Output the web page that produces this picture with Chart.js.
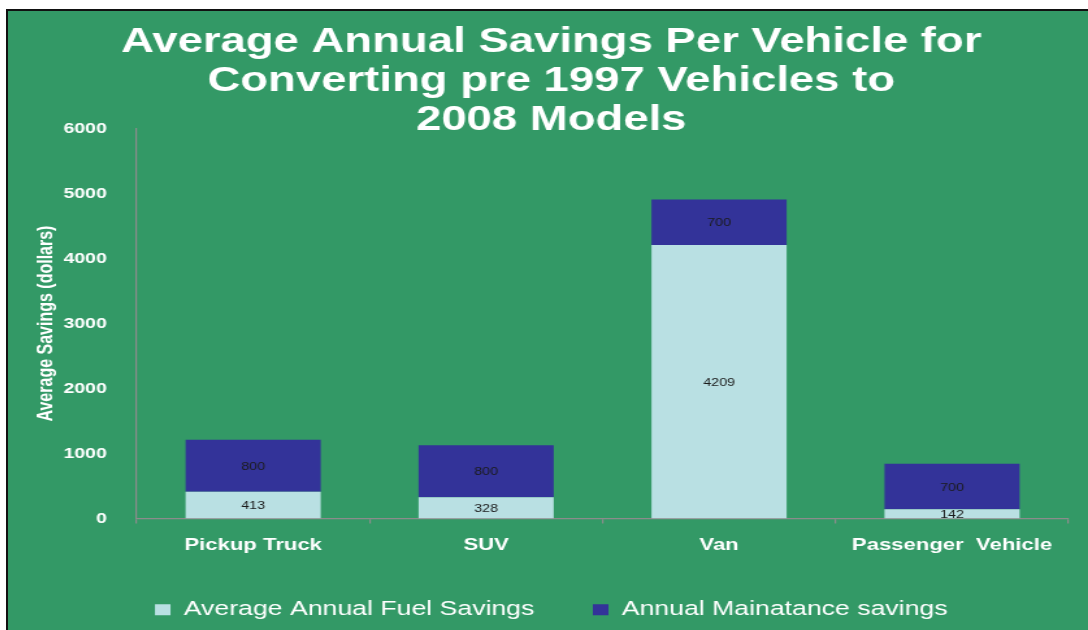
<!DOCTYPE html>
<html lang="en">
<head>
  <meta charset="UTF-8">
  <title>Average Annual Savings Per Vehicle</title>
  <script src="https://cdn.jsdelivr.net/npm/chart.js"></script>
  <style>
    body {
      background: #fff;
      margin: 0;
      overflow: hidden;
    }
    .frame {
      position: absolute;
      left: 6px;
      top: 9px;
      width: 1080px;
      height: 619px;
      border-top: 2px solid #111;
      border-left: 2px solid #111;
      background: #339966;
      overflow: hidden;
    }
    /* chart is drawn narrow and widened, so all text gets the same wide look */
    .stretch {
      width: 831px;
      height: 619px;
      transform: scaleX(1.29964);
      transform-origin: 0 0;
    }
  </style>
</head>
<body>

  <div class="frame">
    <div class="stretch"><canvas id="savingsChart" width="831" height="619"></canvas></div>
  </div>

  <script>
    const titleLines = ['Average Annual Savings Per Vehicle for', 'Converting pre 1997 Vehicles to', '2008 Models'];
    const vehicles = ['Pickup Truck', 'SUV', 'Van', 'Passenger  Vehicle'];
    const fuelSavings = [413, 328, 4209, 142];
    const maintenanceSavings = [800, 800, 700, 700];
    const yTicks = [0, 1000, 2000, 3000, 4000, 5000, 6000];
    const yTitle = 'Average Savings (dollars)';

    const FONT = "'Liberation Sans', Arial, sans-serif";
    const AXIS = '#8c8c8c';

    // value printed in the middle of every bar segment
    const segmentLabels = {
      id: 'segmentLabels',
      afterDatasetsDraw(chart) {
        const ctx = chart.ctx;
        ctx.save();
        ctx.font = '11px ' + FONT;
        ctx.fillStyle = '#1b1b1b';
        ctx.textAlign = 'center';
        ctx.textBaseline = 'middle';
        chart.data.datasets.forEach((ds, i) => {
          chart.getDatasetMeta(i).data.forEach((bar, j) => {
            const p = bar.getCenterPoint();
            ctx.fillText(String(ds.data[j]), p.x, p.y + 1);
          });
        });
        ctx.restore();
      }
    };

    new Chart(document.getElementById('savingsChart').getContext('2d'), {
      type: 'bar',
      data: {
        labels: vehicles,
        datasets: [
          {
            label: 'Average Annual Fuel Savings',
            data: fuelSavings,
            backgroundColor: '#b9e0e3',
            barPercentage: 0.58,
            categoryPercentage: 1.0
          },
          {
            label: 'Annual Mainatance savings',
            data: maintenanceSavings,
            backgroundColor: '#333399',
            barPercentage: 0.58,
            categoryPercentage: 1.0
          }
        ]
      },
      options: {
        responsive: false,
        animation: false,
        layout: { padding: { left: 20, right: 15, top: 0, bottom: 0 } },
        plugins: {
          title: {
            display: true,
            text: titleLines,
            color: '#fff',
            font: { family: FONT, size: 35, weight: 'bold', lineHeight: 1.11 },
            padding: { top: 12, bottom: -11 }
          },
          legend: {
            position: 'bottom',
            maxHeight: 76,
            labels: {
              color: '#fff',
              font: { family: FONT, size: 20.5 },
              boxWidth: 12,
              boxHeight: 11,
              padding: 45
            }
          },
          tooltip: { enabled: false }
        },
        scales: {
          x: {
            stacked: true,
            afterFit: s => { s.height = 36; },
            grid: { drawOnChartArea: false, drawTicks: true, tickLength: 5, color: AXIS, lineWidth: 1.2 },
            border: { color: AXIS, width: 1.2 },
            ticks: {
              color: '#fff',
              padding: 12,
              maxRotation: 0,
              font: { family: FONT, size: 17, weight: 'bold' }
            }
          },
          y: {
            stacked: true,
            min: 0,
            max: 6000,
            afterFit: s => { s.width = 79; },
            afterBuildTicks: s => { s.ticks = yTicks.map(v => ({ value: v })); },
            grid: { display: false },
            border: { color: AXIS, width: 1.2 },
            ticks: {
              color: '#fff',
              padding: 15,
              callback: v => String(v),
              font: { family: FONT, size: 15, weight: 'bold' }
            },
            title: {
              display: true,
              text: yTitle,
              color: '#fff',
              padding: 0,
              font: { family: FONT, size: 16, weight: 'bold' }
            }
          }
        }
      },
      plugins: [segmentLabels]
    });
  </script>

</body>
</html>
